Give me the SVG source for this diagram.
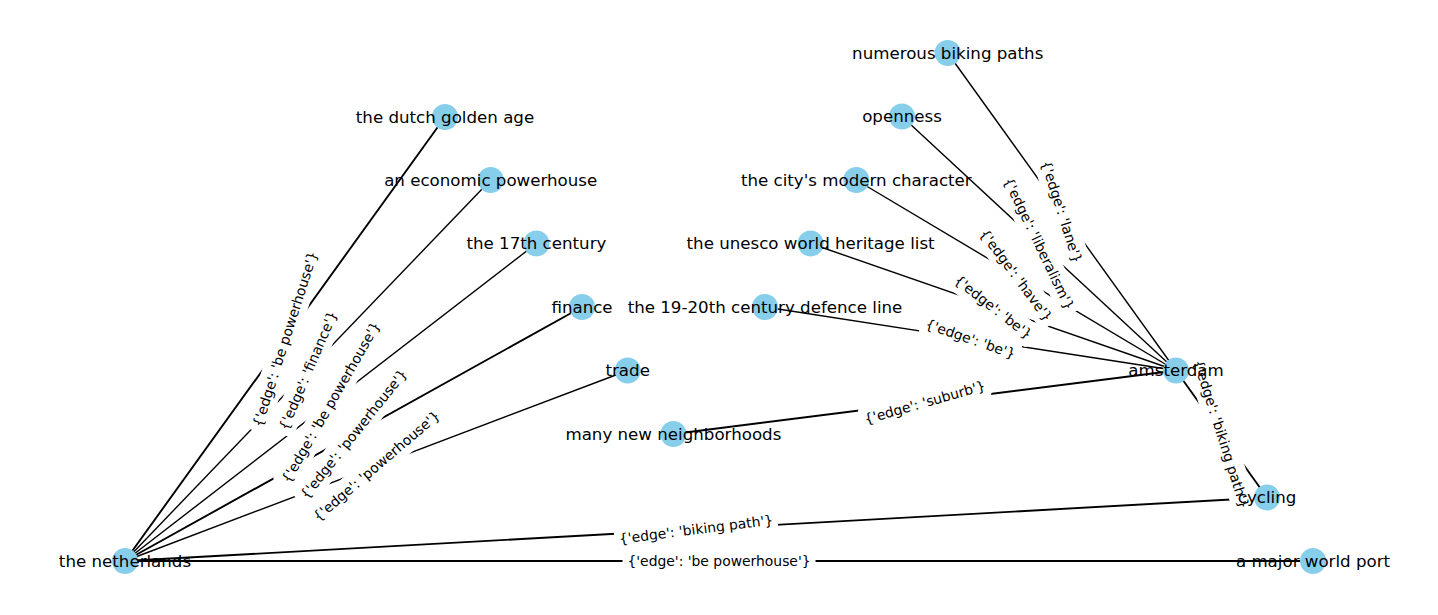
<svg xmlns="http://www.w3.org/2000/svg" width="1438" height="615" viewBox="0 0 1438 615">
<style>
.edge{stroke:#000;stroke-width:1.4;fill:none}
.edge.dbl{stroke-width:1.9}
.lbox{fill:#fff;stroke:#fff;stroke-width:1}
.ltxt{font-family:"DejaVu Sans",sans-serif;font-size:13.9px;fill:#000;text-anchor:middle;dominant-baseline:central}
.node circle{fill:#87CEEB}
.node text{font-family:"DejaVu Sans",sans-serif;font-size:16.67px;fill:#000;text-anchor:middle;dominant-baseline:central}
</style>
<rect width="1438" height="615" fill="#fff"/>
<g id="connectors">
<line class="edge dbl" x1="125" y1="561" x2="445" y2="117"/>
<line class="edge" x1="125" y1="561" x2="490.7" y2="180"/>
<line class="edge" x1="125" y1="561" x2="536.4" y2="243.5"/>
<line class="edge dbl" x1="125" y1="561" x2="582" y2="307"/>
<line class="edge" x1="125" y1="561" x2="627.7" y2="370.5"/>
<line class="edge dbl" x1="125" y1="561" x2="1267" y2="497.5"/>
<line class="edge dbl" x1="125" y1="561" x2="1313" y2="561"/>
<line class="edge" x1="1176" y1="370.5" x2="947.7" y2="53"/>
<line class="edge" x1="1176" y1="370.5" x2="902" y2="116.5"/>
<line class="edge" x1="1176" y1="370.5" x2="856.3" y2="180"/>
<line class="edge" x1="1176" y1="370.5" x2="810.6" y2="243.5"/>
<line class="edge" x1="1176" y1="370.5" x2="765" y2="307"/>
<line class="edge dbl" x1="1176" y1="370.5" x2="673.4" y2="434"/>
<line class="edge dbl" x1="1176" y1="370.5" x2="1267" y2="497.5"/>
</g>
<g id="edge-labels">
<g transform="translate(285,339) rotate(-72.2)"><rect class="lbox" x="-96" y="-12" width="192" height="24" rx="4"/><text class="ltxt">{'edge': 'be powerhouse'}</text></g>
<g transform="translate(307.85,370.5) rotate(-66.9)"><rect class="lbox" x="-68" y="-12" width="136" height="24" rx="4"/><text class="ltxt">{'edge': 'finance'}</text></g>
<g transform="translate(330.7,402.25) rotate(-60.1)"><rect class="lbox" x="-96" y="-12" width="192" height="24" rx="4"/><text class="ltxt">{'edge': 'be powerhouse'}</text></g>
<g transform="translate(353.5,434) rotate(-51.3)"><rect class="lbox" x="-85" y="-12" width="170" height="24" rx="4"/><text class="ltxt">{'edge': 'powerhouse'}</text></g>
<g transform="translate(376.35,465.75) rotate(-40.5)"><rect class="lbox" x="-85" y="-12" width="170" height="24" rx="4"/><text class="ltxt">{'edge': 'powerhouse'}</text></g>
<g transform="translate(696,529.25) rotate(-7.1)"><rect class="lbox" x="-81.5" y="-12" width="163" height="24" rx="4"/><text class="ltxt">{'edge': 'biking path'}</text></g>
<g transform="translate(719,561)"><rect class="lbox" x="-96" y="-12" width="192" height="24" rx="4"/><text class="ltxt">{'edge': 'be powerhouse'}</text></g>
<g transform="translate(1061.85,211.75) rotate(72.3)"><rect class="lbox" x="-57.5" y="-12" width="115" height="24" rx="4"/><text class="ltxt">{'edge': 'lane'}</text></g>
<g transform="translate(1039,243.5) rotate(64.4)"><rect class="lbox" x="-76.5" y="-12" width="153" height="24" rx="4"/><text class="ltxt">{'edge': 'liberalism'}</text></g>
<g transform="translate(1016.15,275.25) rotate(53.3)"><rect class="lbox" x="-59.5" y="-12" width="119" height="24" rx="4"/><text class="ltxt">{'edge': 'have'}</text></g>
<g transform="translate(993.3,307) rotate(38)"><rect class="lbox" x="-51" y="-12" width="102" height="24" rx="4"/><text class="ltxt">{'edge': 'be'}</text></g>
<g transform="translate(970.5,338.75) rotate(19.2)"><rect class="lbox" x="-51" y="-12" width="102" height="24" rx="4"/><text class="ltxt">{'edge': 'be'}</text></g>
<g transform="translate(924.7,402.25) rotate(-15.9)"><rect class="lbox" x="-66.5" y="-12" width="133" height="24" rx="4"/><text class="ltxt">{'edge': 'suburb'}</text></g>
<g transform="translate(1221.5,434) rotate(72.3)"><rect class="lbox" x="-81.5" y="-12" width="163" height="24" rx="4"/><text class="ltxt">{'edge': 'biking path'}</text></g>
</g>
<g id="n-netherlands" class="node"><circle cx="125" cy="561" r="13"/><text x="125" y="561">the netherlands</text></g>
<g id="n-dutch-golden-age" class="node"><circle cx="445" cy="117" r="13"/><text x="445" y="117">the dutch golden age</text></g>
<g id="n-economic-powerhouse" class="node"><circle cx="490.7" cy="180" r="13"/><text x="490.7" y="180">an economic powerhouse</text></g>
<g id="n-17th-century" class="node"><circle cx="536.4" cy="243.5" r="13"/><text x="536.4" y="243.5">the 17th century</text></g>
<g id="n-finance" class="node"><circle cx="582" cy="307" r="13"/><text x="582" y="307">finance</text></g>
<g id="n-trade" class="node"><circle cx="627.7" cy="370.5" r="13"/><text x="627.7" y="370.5">trade</text></g>
<g id="n-many-new-neighborhoods" class="node"><circle cx="673.4" cy="434" r="13"/><text x="673.4" y="434">many new neighborhoods</text></g>
<g id="n-numerous-biking-paths" class="node"><circle cx="947.7" cy="53" r="13"/><text x="947.7" y="53">numerous biking paths</text></g>
<g id="n-openness" class="node"><circle cx="902" cy="116.5" r="13"/><text x="902" y="116.5">openness</text></g>
<g id="n-modern-character" class="node"><circle cx="856.3" cy="180" r="13"/><text x="856.3" y="180">the city's modern character</text></g>
<g id="n-unesco" class="node"><circle cx="810.6" cy="243.5" r="13"/><text x="810.6" y="243.5">the unesco world heritage list</text></g>
<g id="n-defence-line" class="node"><circle cx="765" cy="307" r="13"/><text x="765" y="307">the 19-20th century defence line</text></g>
<g id="n-amsterdam" class="node"><circle cx="1176" cy="370.5" r="13"/><text x="1176" y="370.5">amsterdam</text></g>
<g id="n-cycling" class="node"><circle cx="1267" cy="497.5" r="13"/><text x="1267" y="497.5">cycling</text></g>
<g id="n-world-port" class="node"><circle cx="1313" cy="561" r="13"/><text x="1313" y="561">a major world port</text></g>
</svg>
